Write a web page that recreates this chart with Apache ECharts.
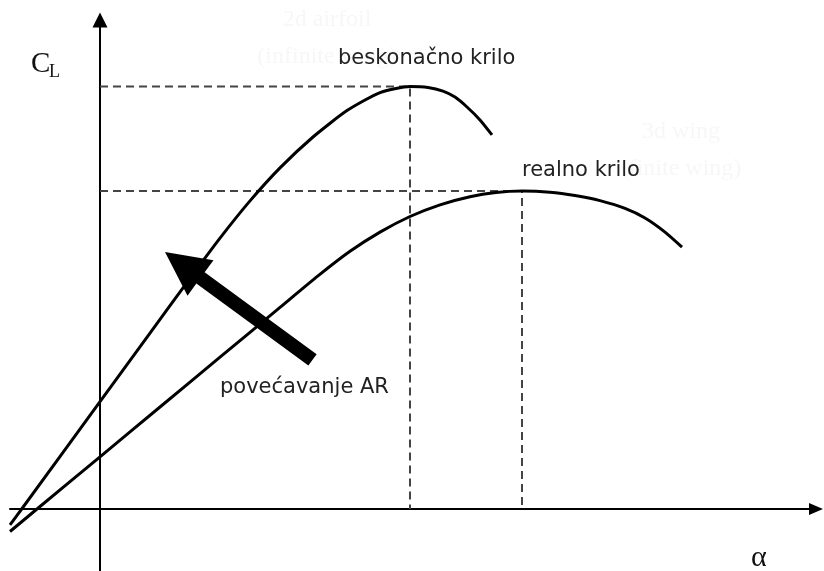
<!DOCTYPE html>
<html><head><meta charset="utf-8">
<script src="https://cdn.jsdelivr.net/npm/echarts@6/dist/echarts.min.js"></script>
<style>html,body{margin:0;padding:0;background:#fff}#c{width:824px;height:571px}</style>
</head><body><div id="c"></div>
<script>
// angle of attack (deg, schematic) and lift coefficient
const alphaInfinite = [-4.5, -3.915, 0, 2.5, 4.5, 6.0, 7.5, 9.0, 10.65, 12.35, 14.0, 15.5, 16.4, 17.15, 17.75, 18.35, 19.0, 19.6];
const clInfinite    = [-0.053, 0, 0.358, 0.586, 0.769, 0.903, 1.027, 1.137, 1.24, 1.328, 1.388, 1.408, 1.405, 1.393, 1.373, 1.34, 1.297, 1.247];
const alphaReal = [-4.5, -3.15, 0, 3.0, 6.0, 9.0, 10.9, 12.5, 14.0, 15.5, 17.0, 18.5, 19.8, 21.1, 22.5, 23.75, 25.0, 26.25, 27.25, 28.25, 29.1];
const clReal    = [-0.075, 0, 0.174, 0.340, 0.506, 0.672, 0.777, 0.859, 0.923, 0.975, 1.014, 1.041, 1.055, 1.06, 1.056, 1.045, 1.028, 1.002, 0.97, 0.923, 0.873];
const peakAlpha = [15.5, 21.1];
const peakCL = [1.408, 1.06];
const arrowFrom = [10.625, 0.497];
const arrowTo = [3.25, 0.857];
const curveNames = ['beskonačno krilo', 'realno krilo'];
const arrowText = 'povećavanje AR';
const ghostTexts = ['2d airfoil', '(infinite wing)', '3d wing', '(finite wing)'];

const chart = echarts.init(document.getElementById('c'), null, {renderer: 'canvas'});
const zip = (a, b) => a.map((v, i) => [v, b[i]]);
const dashed = peakAlpha.map((a, i) => ({
  type: 'line', data: [[0, peakCL[i]], [a, peakCL[i]], [a, 0]], symbol: 'none', silent: true, z: 1,
  lineStyle: {color: '#444', width: 2, type: [8, 5]}
}));
const sans = '"DejaVu Sans", Verdana, sans-serif';
const serif = '"Liberation Serif", "Times New Roman", serif';
function txt(text, x, y, font, fill, align, z) {
  return {type: 'text', x: x, y: y, z: z || 10, silent: true,
    style: {text: text, font: font, fill: fill, textAlign: align || 'left', textVerticalAlign: 'middle', verticalAlign: 'middle'}};
}
chart.setOption({
  animation: false,
  backgroundColor: '#fff',
  grid: {left: 10, right: 8, top: 20, bottom: 0, containLabel: false},
  xAxis: {type: 'value', min: -4.5, max: 35.8,
    axisLine: {onZero: true, lineStyle: {color: '#000', width: 2}, symbol: ['none', 'triangle'], symbolSize: [12, 14]},
    axisTick: {show: false}, axisLabel: {show: false}, splitLine: {show: false}},
  yAxis: {type: 'value', min: -0.20667, max: 1.63,
    axisLine: {onZero: true, lineStyle: {color: '#000', width: 2}, symbol: ['none', 'triangle'], symbolSize: [15, 15]},
    axisTick: {show: false}, axisLabel: {show: false}, splitLine: {show: false}},
  series: dashed.concat([
    {type: 'line', name: curveNames[0], data: zip(alphaInfinite, clInfinite), symbol: 'none', smooth: 0.2, z: 3,
      lineStyle: {color: '#000', width: 3}},
    {type: 'line', name: curveNames[1], data: zip(alphaReal, clReal), symbol: 'none', smooth: 0.2, z: 3,
      lineStyle: {color: '#000', width: 3}},
    {type: 'custom', z: 4, silent: true, data: [[arrowFrom[0], arrowFrom[1], arrowTo[0], arrowTo[1]]],
      encode: {x: [0, 2], y: [1, 3]},
      renderItem: function (params, api) {
        const a = api.coord([api.value(0), api.value(1)]);
        const b = api.coord([api.value(2), api.value(3)]);
        const dx = b[0] - a[0], dy = b[1] - a[1], L = Math.hypot(dx, dy);
        const ux = dx / L, uy = dy / L, nx = -uy, ny = ux;
        const headLen = 44, headHalf = 22, shaftHalf = 7;
        const bx = b[0] - ux * headLen, by = b[1] - uy * headLen;
        const pts = [
          [a[0] + nx * shaftHalf, a[1] + ny * shaftHalf], [bx + nx * shaftHalf, by + ny * shaftHalf],
          [bx + nx * headHalf, by + ny * headHalf], [b[0], b[1]], [bx - nx * headHalf, by - ny * headHalf],
          [bx - nx * shaftHalf, by - ny * shaftHalf], [a[0] - nx * shaftHalf, a[1] - ny * shaftHalf]];
        return {type: 'polygon', shape: {points: pts}, style: {fill: '#000'}};
      }}
  ]),
  graphic: [
    txt(ghostTexts[0], 327, 20, '24px ' + serif, '#f7f7f7', 'center', 1),
    txt(ghostTexts[1], 327, 57, '24px ' + serif, '#f7f7f7', 'center', 1),
    txt(ghostTexts[2], 681, 132, '24px ' + serif, '#f7f7f7', 'center', 1),
    txt(ghostTexts[3], 681, 169, '24px ' + serif, '#f7f7f7', 'center', 1),
    txt('C', 31, 64, '29px ' + serif, '#111'),
    txt('L', 49, 72, '18px ' + serif, '#111'),
    txt('α', 751, 558, '30px ' + serif, '#111'),
    txt(curveNames[0], 338, 59, '21px ' + sans, '#222'),
    txt(curveNames[1], 522, 171, '21px ' + sans, '#222'),
    txt(arrowText, 220, 388, '21px ' + sans, '#222')
  ]
});
</script></body></html>
